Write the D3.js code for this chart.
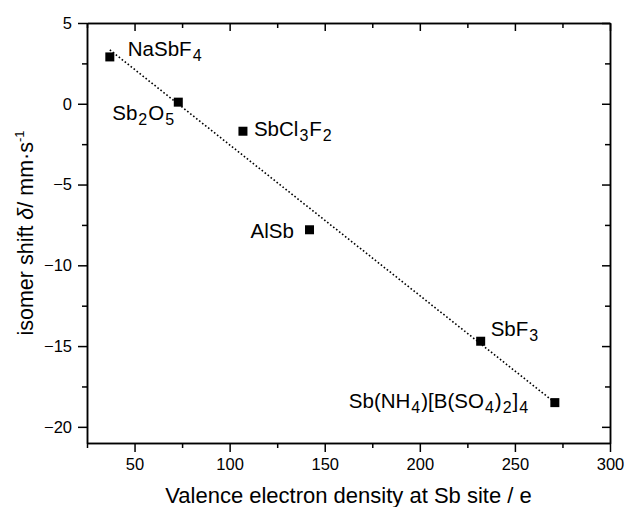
<!DOCTYPE html>
<html>
<head>
<meta charset="utf-8">
<script src="https://cdn.jsdelivr.net/npm/d3@7/dist/d3.min.js"></script>
<style>
  body { margin: 0; background: #fff; }
  svg { display: block; font-family: "Liberation Sans", Arial, sans-serif; }
</style>
</head>
<body>
<div id="vis"></div>
<script>
'use strict';

// Compounds
const compounds = ['NaSbF4', 'Sb2O5', 'SbCl3F2', 'AlSb', 'SbF3', 'Sb(NH4)[B(SO4)2]4'];
// valence electron density at Sb site / e
const density = [37, 73, 107, 142, 232, 271];
// isomer shift / mm s-1
const shift = [2.9, 0.1, -1.7, -7.8, -14.7, -18.5];

const xMajor = [50, 100, 150, 200, 250, 300];
const xMinor = [25, 75, 125, 175, 225, 275];
const yMajor = [-20, -15, -10, -5, 0, 5];
const yMinor = [-17.5, -12.5, -7.5, -2.5, 2.5];

// label pieces: [text, isSub]
const labelParts = [
  [['NaSbF', 0], ['4', 1]],
  [['Sb', 0], ['2', 1], ['O', 0], ['5', 1]],
  [['SbCl', 0], ['3', 1], ['F', 0], ['2', 1]],
  [['AlSb', 0]],
  [['SbF', 0], ['3', 1]],
  [['Sb(NH', 0], ['4', 1], [')[B(SO', 0], ['4', 1], [')', 0], ['2', 1], [']', 0], ['4', 1]]
];
// label offsets from the marker (px), layout only
const labelDx = [18, -66, 11, -59, 10, -206];
const labelDy = [-1, 18, 5, 8, -5, 5];

const width = 627;
const height = 507;
const margin = { top: 23, right: 17, bottom: 64, left: 87 };
const innerW = width - margin.left - margin.right;
const innerH = height - margin.top - margin.bottom;

const svg = d3.select('#vis').append('svg')
  .attr('width', width)
  .attr('height', height);

const g = svg.append('g')
  .attr('transform', `translate(${margin.left},${margin.top})`);

const x = d3.scaleLinear().domain([25, 300]).range([0, innerW]);
const y = d3.scaleLinear().domain([-21, 5]).range([innerH, 0]);

function styleAxis(sel, fontSize) {
  sel.selectAll('path.domain').attr('stroke', '#000').attr('stroke-width', 1.5);
  sel.selectAll('.tick line').attr('stroke', '#000').attr('stroke-width', 1.5);
  sel.selectAll('.tick text')
    .attr('fill', '#000')
    .style('font-size', fontSize + 'px')
    .style('font-family', '"Liberation Sans", Arial, sans-serif');
}

// minor ticks first, then majors with labels
g.append('g').attr('transform', `translate(0,${innerH})`)
  .call(d3.axisBottom(x).tickValues(xMinor).tickSize(5).tickSizeOuter(0).tickFormat(''))
  .call(styleAxis, 16.5);
g.append('g').attr('transform', `translate(0,${innerH})`)
  .call(d3.axisBottom(x).tickValues(xMajor).tickSize(9).tickSizeOuter(0).tickPadding(6))
  .call(styleAxis, 16.5);

g.append('g')
  .call(d3.axisLeft(y).tickValues(yMinor).tickSize(5).tickSizeOuter(0).tickFormat(''))
  .call(styleAxis, 16.5);
g.append('g')
  .call(d3.axisLeft(y).tickValues(yMajor).tickSize(9).tickSizeOuter(0).tickPadding(6))
  .call(styleAxis, 16.5);

// mirrored axes, ticks pointing inward
g.append('g')
  .call(d3.axisTop(x).tickValues(xMinor).tickSize(-5).tickSizeOuter(0).tickFormat(''))
  .call(styleAxis, 16.5);
g.append('g')
  .call(d3.axisTop(x).tickValues(xMajor).tickSize(-8).tickSizeOuter(0).tickFormat(''))
  .call(styleAxis, 16.5);
g.append('g').attr('transform', `translate(${innerW},0)`)
  .call(d3.axisRight(y).tickValues(yMinor).tickSize(-5).tickSizeOuter(0).tickFormat(''))
  .call(styleAxis, 16.5);
g.append('g').attr('transform', `translate(${innerW},0)`)
  .call(d3.axisRight(y).tickValues(yMajor).tickSize(-8).tickSizeOuter(0).tickFormat(''))
  .call(styleAxis, 16.5);

// linear least squares fit through the points
const mx = d3.mean(density);
const my = d3.mean(shift);
const sxy = d3.sum(density, (d, i) => (d - mx) * (shift[i] - my));
const sxx = d3.sum(density, d => (d - mx) * (d - mx));
const slope = sxy / sxx;
const intercept = my - slope * mx;
const fitX = d3.extent(density);

g.append('line')
  .attr('x1', x(fitX[0])).attr('y1', y(intercept + slope * fitX[0]))
  .attr('x2', x(fitX[1])).attr('y2', y(intercept + slope * fitX[1]))
  .attr('stroke', '#000')
  .attr('stroke-width', 1.6)
  .attr('stroke-dasharray', '1.6,2.2');

// markers
const size = 9;
g.selectAll('rect.pt')
  .data(density)
  .enter().append('rect')
  .attr('class', 'pt')
  .attr('x', d => x(d) - size / 2)
  .attr('y', (d, i) => y(shift[i]) - size / 2)
  .attr('width', size)
  .attr('height', size)
  .attr('fill', '#000');

// compound labels with subscripts
const labelSize = 20.5;
const subSize = 16;
const subGap = 1;
compounds.forEach(function (name, i) {
  const t = g.append('text')
    .attr('x', x(density[i]) + labelDx[i])
    .attr('y', y(shift[i]) + labelDy[i])
    .attr('fill', '#000')
    .style('font-size', labelSize + 'px');
  let shifted = false;
  labelParts[i].forEach(function (p) {
    const ts = t.append('tspan').text(p[0]);
    if (p[1]) {
      ts.attr('dx', subGap).style('font-size', subSize + 'px');
      if (!shifted) { ts.attr('dy', 5); shifted = true; }
    } else if (shifted) {
      ts.attr('dx', subGap).attr('dy', -5);
      shifted = false;
    }
  });
});

// axis titles
svg.append('text')
  .attr('x', margin.left + innerW / 2)
  .attr('y', 503)
  .attr('text-anchor', 'middle')
  .attr('fill', '#000')
  .style('font-size', '22px')
  .text('Valence electron density at Sb site / e');

const yt = svg.append('text')
  .attr('transform', `translate(33,${margin.top + innerH / 2}) rotate(-90)`)
  .attr('text-anchor', 'middle')
  .attr('fill', '#000')
  .style('font-size', '21.5px');
yt.append('tspan').text('isomer shift ');
yt.append('tspan').style('font-style', 'italic').text('\u03B4');
yt.append('tspan').text('/ mm\u00B7s');
yt.append('tspan').attr('dy', -9).style('font-size', '13px').text('-1');
</script>
</body>
</html>
